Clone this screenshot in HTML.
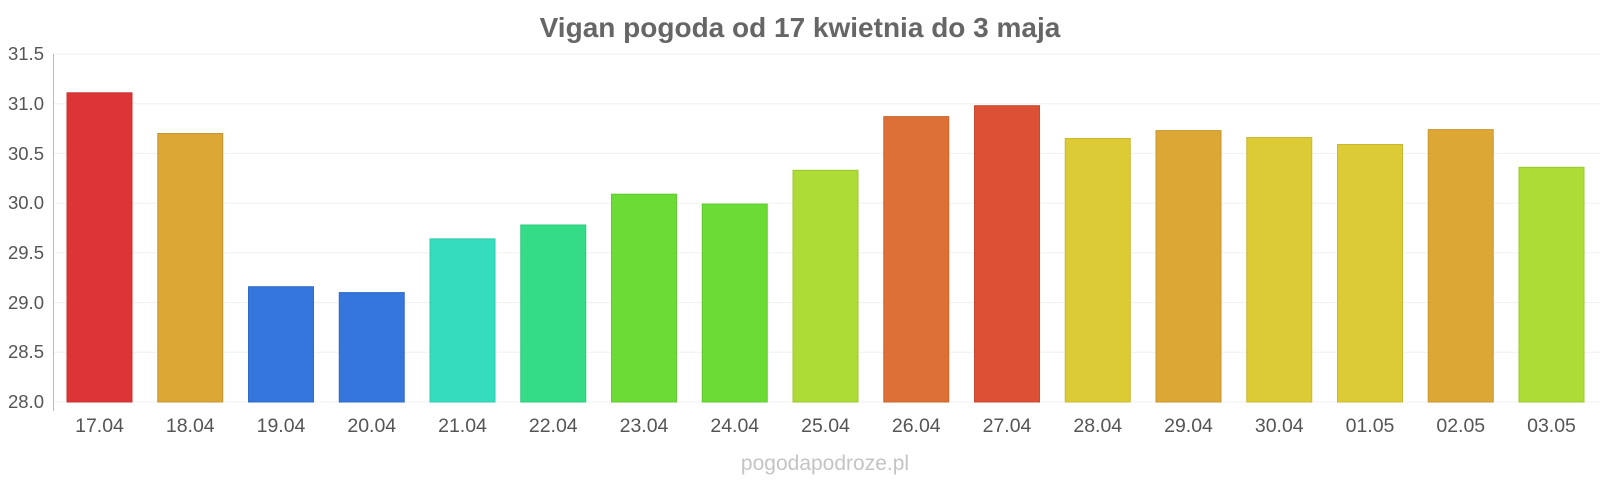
<!DOCTYPE html>
<html><head><meta charset="utf-8"><style>
html,body{margin:0;padding:0;background:#fff;}
svg{display:block;font-family:"Liberation Sans",sans-serif;}
</style></head><body>
<svg width="1600" height="480" viewBox="0 0 1600 480" xmlns="http://www.w3.org/2000/svg">
<text x="800" y="37" text-anchor="middle" font-size="28" font-weight="bold" fill="#666">Vigan pogoda od 17 kwietnia do 3 maja</text>
<g stroke="#f0f0f0" stroke-width="1">
<line x1="53" x2="1600" y1="54" y2="54"/><line x1="53" x2="1600" y1="103.7" y2="103.7"/>
<line x1="53" x2="1600" y1="153.4" y2="153.4"/><line x1="53" x2="1600" y1="203.1" y2="203.1"/>
<line x1="53" x2="1600" y1="252.9" y2="252.9"/><line x1="53" x2="1600" y1="302.6" y2="302.6"/>
<line x1="53" x2="1600" y1="352.3" y2="352.3"/><line x1="53" x2="1600" y1="402" y2="402"/>
</g>
<line x1="53.5" x2="53.5" y1="54" y2="411" stroke="#bbb"/>
<g font-size="18.5" fill="#555" text-anchor="end">
<text x="44" y="60">31.5</text><text x="44" y="110">31.0</text><text x="44" y="160">30.5</text>
<text x="44" y="209">30.0</text><text x="44" y="259">29.5</text><text x="44" y="309">29.0</text>
<text x="44" y="358">28.5</text><text x="44" y="408">28.0</text>
</g>
<g stroke-width="1">
<rect x="67" y="92.8" width="65" height="309.2" fill="#dd3535" stroke="#c83030"/>
<rect x="157.75" y="133.5" width="65" height="268.5" fill="#dca735" stroke="#c89630"/>
<rect x="248.5" y="286.7" width="65" height="115.3" fill="#3576dd" stroke="#306ac8"/>
<rect x="339.25" y="292.6" width="65" height="109.4" fill="#3576dd" stroke="#306ac8"/>
<rect x="430" y="238.9" width="65" height="163.1" fill="#35dcbd" stroke="#30c8aa"/>
<rect x="520.75" y="225" width="65" height="177" fill="#35dc88" stroke="#30c87a"/>
<rect x="611.5" y="194.2" width="65" height="207.8" fill="#6bdc35" stroke="#60c830"/>
<rect x="702.25" y="204.1" width="65" height="197.9" fill="#6bdc35" stroke="#60c830"/>
<rect x="793" y="170.3" width="65" height="231.7" fill="#acdc35" stroke="#9bc830"/>
<rect x="883.75" y="116.6" width="65" height="285.4" fill="#dc7035" stroke="#c86530"/>
<rect x="974.5" y="105.7" width="65" height="296.3" fill="#dc5035" stroke="#c84830"/>
<rect x="1065.25" y="138.5" width="65" height="263.5" fill="#dccb35" stroke="#c8b830"/>
<rect x="1156" y="130.6" width="65" height="271.4" fill="#dca735" stroke="#c89630"/>
<rect x="1246.75" y="137.5" width="65" height="264.5" fill="#dccb35" stroke="#c8b830"/>
<rect x="1337.5" y="144.5" width="65" height="257.5" fill="#dccb35" stroke="#c8b830"/>
<rect x="1428.25" y="129.6" width="65" height="272.4" fill="#dca735" stroke="#c89630"/>
<rect x="1519" y="167.3" width="65" height="234.7" fill="#acdc35" stroke="#9bc830"/>
</g>
<g font-size="19.5" fill="#555" text-anchor="middle">
<text x="99.5" y="432">17.04</text><text x="190.25" y="432">18.04</text><text x="281" y="432">19.04</text>
<text x="371.75" y="432">20.04</text><text x="462.5" y="432">21.04</text><text x="553.25" y="432">22.04</text>
<text x="644" y="432">23.04</text><text x="734.75" y="432">24.04</text><text x="825.5" y="432">25.04</text>
<text x="916.25" y="432">26.04</text><text x="1007" y="432">27.04</text><text x="1097.75" y="432">28.04</text>
<text x="1188.5" y="432">29.04</text><text x="1279.25" y="432">30.04</text><text x="1370" y="432">01.05</text>
<text x="1460.75" y="432">02.05</text><text x="1551.5" y="432">03.05</text>
</g>
<text x="825" y="470" text-anchor="middle" font-size="21" fill="#c4c4c4">pogodapodroze.pl</text>
</svg>
</body></html>
